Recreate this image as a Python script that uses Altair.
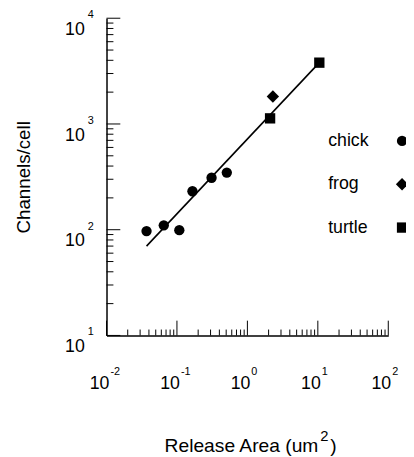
import altair as alt
import pandas as pd

# ---- data ----
species = ["chick", "chick", "chick", "chick", "chick", "chick", "frog", "turtle", "turtle"]
area = [0.037, 0.065, 0.108, 0.166, 0.31, 0.51, 2.3, 2.1, 10.5]
channels = [97, 110, 99, 231, 310, 347, 1820, 1130, 3800]

fit_area = [0.037, 10.5]
fit_channels = [70, 3800]

legend_order = ["chick", "frog", "turtle"]

x_major = [0.01, 0.1, 1, 10, 100]
x_exp = ["-2", "-1", "0", "1", "2"]
y_major = [10, 100, 1000, 10000]
y_exp = ["1", "2", "3", "4"]
x_minor = [m * 10.0 ** e for e in range(-2, 2) for m in range(2, 10)]
y_minor = [m * 10.0 ** e for e in range(1, 4) for m in range(2, 10)]

x_title = ["Release Area (um", "2", ")"]

FONT = "Liberation Sans"
W, H = 286, 322

xs = alt.Scale(type="log", domain=[0.01, 100], nice=False)
ys = alt.Scale(type="log", domain=[10, 10000], nice=False)

xa = alt.Axis(title=None, labels=False, ticks=False, grid=False,
              domain=True, domainColor="black", domainWidth=1.5)
ya = alt.Axis(title="Channels/cell", labels=False, ticks=False, grid=False,
              domain=True, domainColor="black", domainWidth=1.5,
              titleFont=FONT, titleFontSize=19, titleFontWeight="normal",
              titleColor="black", titlePadding=74)

pts = pd.DataFrame({"species": species, "area": area, "channels": channels})
fit = pd.DataFrame({"area": fit_area, "channels": fit_channels})

points = alt.Chart(pts).mark_point(filled=True, opacity=1, color="black", size=110).encode(
    x=alt.X("area:Q", scale=xs, axis=xa),
    y=alt.Y("channels:Q", scale=ys, axis=ya),
    shape=alt.Shape("species:N",
                    scale=alt.Scale(domain=legend_order,
                                    range=["circle", "M-1.2,0L0,-1.2L1.2,0L0,1.2Z", "square"]),
                    legend=alt.Legend(title=None, orient="none", legendX=207, legendY=115.5,
                                      labelFont=FONT, labelFontSize=18, labelColor="black",
                                      symbolOffset=84, labelOffset={"expr": "-84"}, rowPadding=25,
                                      symbolFillColor="black", symbolStrokeColor="black",
                                      symbolSize=110, padding=0)),
)

line = alt.Chart(fit).mark_line(color="black", strokeWidth=1.6).encode(
    x=alt.X("area:Q", scale=xs, axis=xa),
    y=alt.Y("channels:Q", scale=ys, axis=ya),
)

def xticks(vals, length):
    return alt.Chart(pd.DataFrame({"v": vals})).mark_rule(color="black", strokeWidth=1).encode(
        x=alt.X("v:Q", scale=xs, axis=xa),
        y=alt.value(H), y2=alt.value(H - length))

def yticks(vals, length):
    return alt.Chart(pd.DataFrame({"v": vals})).mark_rule(color="black", strokeWidth=1).encode(
        y=alt.Y("v:Q", scale=ys, axis=ya),
        x=alt.value(0), x2=alt.value(length))

xlab_df = pd.DataFrame({"v": x_major, "e": x_exp})
ylab_df = pd.DataFrame({"v": y_major, "e": y_exp})

xlab_base = alt.Chart(xlab_df).mark_text(
    text="10", align="right", baseline="middle", dx=3, dy=49,
    font=FONT, fontSize=18, color="black").encode(
    x=alt.X("v:Q", scale=xs, axis=xa), y=alt.value(H))
xlab_exp = alt.Chart(xlab_df).mark_text(
    align="left", baseline="middle", dx=4, dy=37,
    font=FONT, fontSize=11, color="black").encode(
    x=alt.X("v:Q", scale=xs, axis=xa), y=alt.value(H), text="e:N")

ylab_base = alt.Chart(ylab_df).mark_text(
    text="10", align="right", baseline="middle", dx=-22, dy=12,
    font=FONT, fontSize=18, color="black").encode(
    y=alt.Y("v:Q", scale=ys, axis=ya), x=alt.value(0))
ylab_exp = alt.Chart(ylab_df).mark_text(
    align="left", baseline="middle", dx=-19, dy=-3,
    font=FONT, fontSize=11, color="black").encode(
    y=alt.Y("v:Q", scale=ys, axis=ya), x=alt.value(0), text="e:N")

# x-axis title with a raised "2"
title_main = alt.Chart(pd.DataFrame({"t": [x_title[0]]})).mark_text(
    align="right", baseline="alphabetic", font=FONT, fontSize=19.5, color="black",
    dx=72, dy=118).encode(x=alt.value(W / 2), y=alt.value(H), text="t:N")
title_sup = alt.Chart(pd.DataFrame({"t": [x_title[1]]})).mark_text(
    align="left", baseline="alphabetic", font=FONT, fontSize=15, color="black",
    dx=74, dy=107).encode(x=alt.value(W / 2), y=alt.value(H), text="t:N")
title_end = alt.Chart(pd.DataFrame({"t": [x_title[2]]})).mark_text(
    align="left", baseline="alphabetic", font=FONT, fontSize=19.5, color="black",
    dx=84, dy=118).encode(x=alt.value(W / 2), y=alt.value(H), text="t:N")

chart = alt.layer(
    points, line,
    xticks(x_major, 15), xticks(x_minor, 6),
    yticks(y_major, 14), yticks(y_minor, 7),
    xlab_base, xlab_exp, ylab_base, ylab_exp,
    title_main, title_sup, title_end,
).properties(
    width=W, height=H,
    autosize=alt.AutoSizeParams(type="none"),
    padding={"left": 100, "top": 7, "right": 18, "bottom": 120},
).configure_view(stroke=None).configure_axis(grid=False)

chart.save("out.html", embed_options={"renderer": "svg", "actions": False})
